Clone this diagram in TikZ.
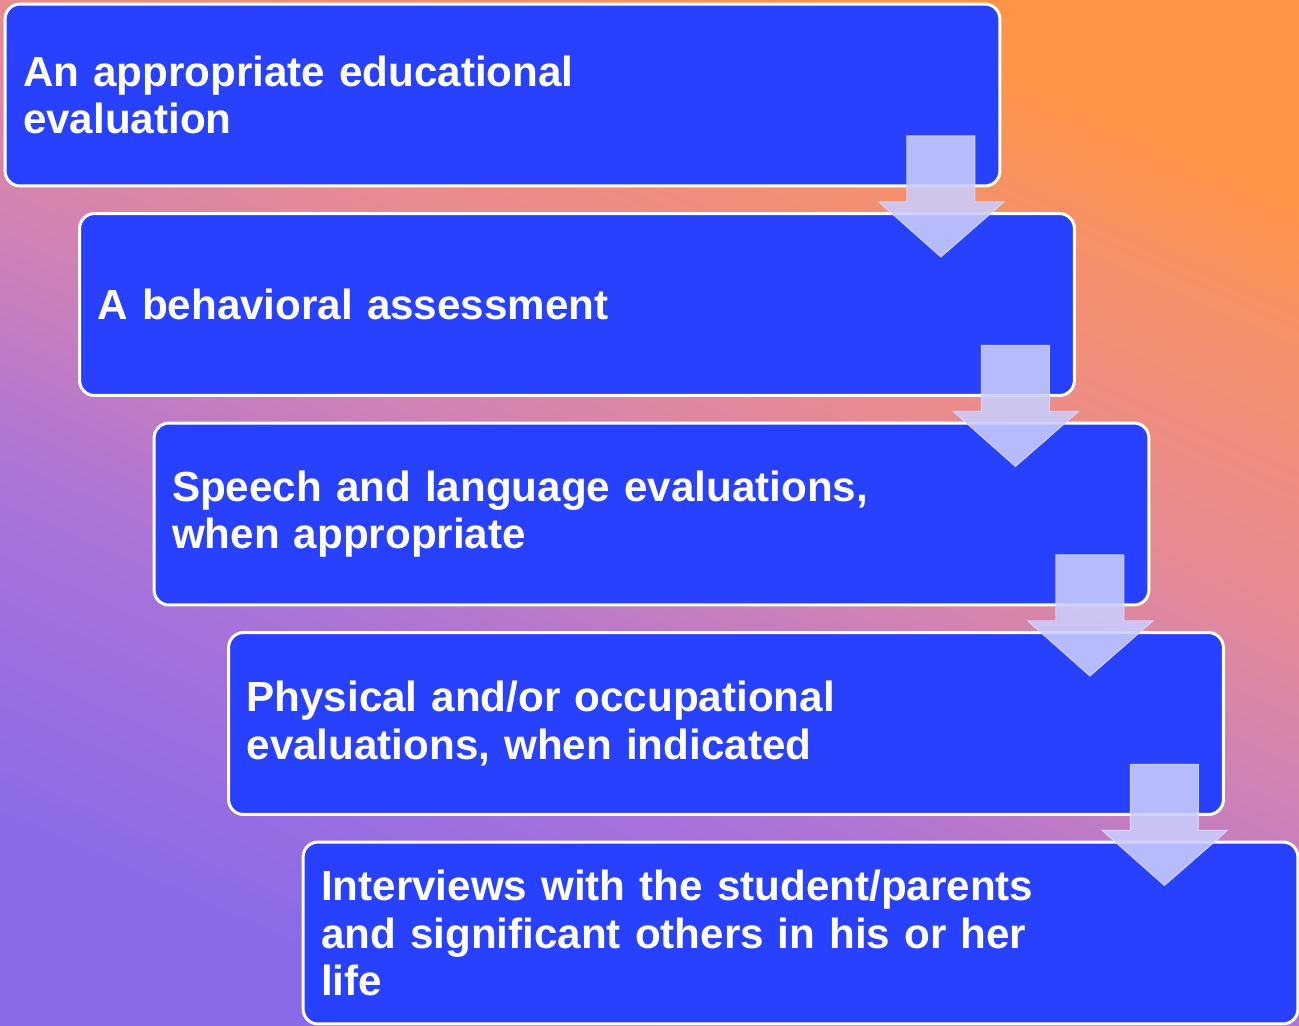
\documentclass[tikz,border=0pt]{standalone}
\usepackage{fontspec}
\setmainfont{Liberation Sans}
\usetikzlibrary{calc}

\definecolor{bgpurple}{RGB}{138,106,232}
\definecolor{bglilac}{RGB}{172,116,214}
\definecolor{bgmauve}{RGB}{208,130,180}
\definecolor{bgpink}{RGB}{230,138,148}
\definecolor{bgsalmon}{RGB}{245,144,110}
\definecolor{bgorange}{RGB}{255,148,70}
\definecolor{stepblue}{RGB}{40,64,255}
\definecolor{arrowfill}{RGB}{202,205,253}
\definecolor{arrowline}{RGB}{214,217,255}

\pgfdeclareverticalshading{bgshade}{100bp}{color(0bp)=(bgpurple); color(25bp)=(bgpurple);
  color(40bp)=(bglilac); color(50bp)=(bgmauve); color(58bp)=(bgpink);
  color(68bp)=(bgsalmon); color(75bp)=(bgorange); color(100bp)=(bgorange)}

\tikzset{
  stepbox/.style = {draw=white, line width=3*0.02cm, fill=stepblue, rounded corners=0.3cm,
    minimum height=3.64cm, text width=19.18cm, inner xsep=0.36cm, inner ysep=0pt,
    outer sep=0pt, align=left, text=white,
    font=\bfseries\fontsize{24}{27.2}\selectfont},
  flowarrow/.style = {fill=arrowfill, fill opacity=0.88, draw=arrowline, draw opacity=0.9,
    line width=0.02cm}
}

\begin{document}
\begin{tikzpicture}[x=0.02cm, y=-0.02cm]
\useasboundingbox (0,0) rectangle (1299,1025);
% background
\shade[shading=bgshade, shading angle=-24] (0,0) rectangle (1299,1025);

% steps
\node[stepbox] (s1) at (502.5, 95) {An appropriate educational\\evaluation};
\node[stepbox] (s2) at (577, 304.5) {A behavioral assessment};
\node[stepbox] (s3) at (651.5, 514) {Speech and language evaluations,\\when appropriate};
\node[stepbox] (s4) at (726, 723.5) {Physical and/or occupational\\evaluations, when indicated};
\node[stepbox] (s5) at (800.5, 933) {Interviews with the student/parents\\and significant others in his or her\\life};

% arrows between steps
\path[flowarrow] ($(s1.south east)+(-93,-50)$) -- ++(68,0) -- ++(0,66) -- ++(29,0) -- ++(-63,55) -- ++(-62,-55) -- ++(28,0) -- cycle;
\path[flowarrow] ($(s2.south east)+(-93,-50)$) -- ++(68,0) -- ++(0,66) -- ++(29,0) -- ++(-63,55) -- ++(-62,-55) -- ++(28,0) -- cycle;
\path[flowarrow] ($(s3.south east)+(-93,-50)$) -- ++(68,0) -- ++(0,66) -- ++(29,0) -- ++(-63,55) -- ++(-62,-55) -- ++(28,0) -- cycle;
\path[flowarrow] ($(s4.south east)+(-93,-50)$) -- ++(68,0) -- ++(0,66) -- ++(29,0) -- ++(-63,55) -- ++(-62,-55) -- ++(28,0) -- cycle;
\end{tikzpicture}
\end{document}
